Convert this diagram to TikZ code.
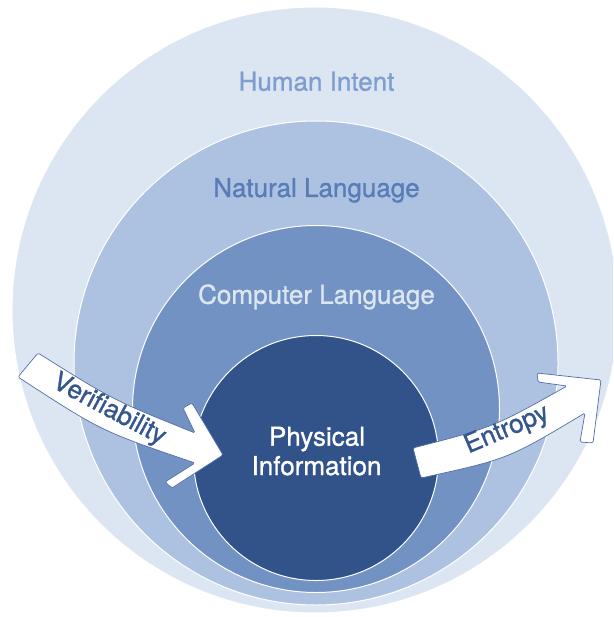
\documentclass[tikz,border=0pt]{standalone}
\usepackage{fontspec}
\setmainfont{TeX Gyre Heros}
\newfontfamily\ringfont[FakeBold=1]{TeX Gyre Heros}
\usepackage{tikz}
\definecolor{ringintent}{RGB}{220,230,242}
\definecolor{ringnatural}{RGB}{173,194,224}
\definecolor{ringcomputer}{RGB}{114,146,196}
\definecolor{ringphysical}{RGB}{50,82,138}
\definecolor{intenttext}{RGB}{126,158,207}
\definecolor{naturaltext}{RGB}{88,124,184}
\definecolor{arrowtext}{RGB}{52,86,140}
\definecolor{arrowline}{RGB}{80,110,165}
\tikzset{
    ring/.style={draw=white, line width=1pt},                 % nested circles
    bigarrow/.style={fill=white, draw=arrowline, line width=0.7pt, rounded corners=1.5pt},
    ringlabel/.style={anchor=base, inner sep=0pt, font=\ringfont\fontsize{26}{30}\selectfont},
    arrowlabel/.style={inner sep=0pt, text=arrowtext, font=\ringfont\fontsize{26}{30}\selectfont},
}

\begin{document}
\begin{tikzpicture}[x=1pt,y=-1pt]
    \useasboundingbox (0,0) rectangle (613,617);
    \clip (0,0) rectangle (613,617);
    \filldraw[ring, fill=ringintent]   (315,310) circle[radius=303];
    \filldraw[ring, fill=ringnatural]  (316,363) circle[radius=242];
    \filldraw[ring, fill=ringcomputer] (316,409) circle[radius=183.5];
    \filldraw[ring, fill=ringphysical] (316,458) circle[radius=122.5];
    % arrows in and out of the core
    \filldraw[bigarrow] (38,353) .. controls (113,400) .. (195,433) -- (183,408) -- (192,403)
        -- (223,455) -- (172,488) -- (165,482) -- (195,463) .. controls (101,431) .. (18,377) -- cycle;
    \filldraw[bigarrow] (413,448) .. controls (494,427) .. (567,386) -- (538,382) -- (537,373)
        -- (601,380) -- (593,443) -- (580,442) -- (585,413) .. controls (508,459) .. (421,478) -- cycle;
    \node[ringlabel, text=intenttext]  (intent)   at (316.5,90.7)  {Human Intent};
    \node[ringlabel, text=naturaltext] (natural)  at (316.5,197)   {Natural Language};
    \node[ringlabel, text=ringintent]  (computer) at (316.5,303.8) {Computer Language};
    \node[ringlabel, text=white]       (physical) at (317,445.7)   {Physical};
    \node[ringlabel, text=white]       (info)     at (316.5,475)   {Information};
    \node[arrowlabel, rotate=-28] (verif)   at (109,410) {Verifiability};
    \node[arrowlabel, rotate=23]  (entropy) at (507,430) {Entropy};
\end{tikzpicture}
\end{document}
